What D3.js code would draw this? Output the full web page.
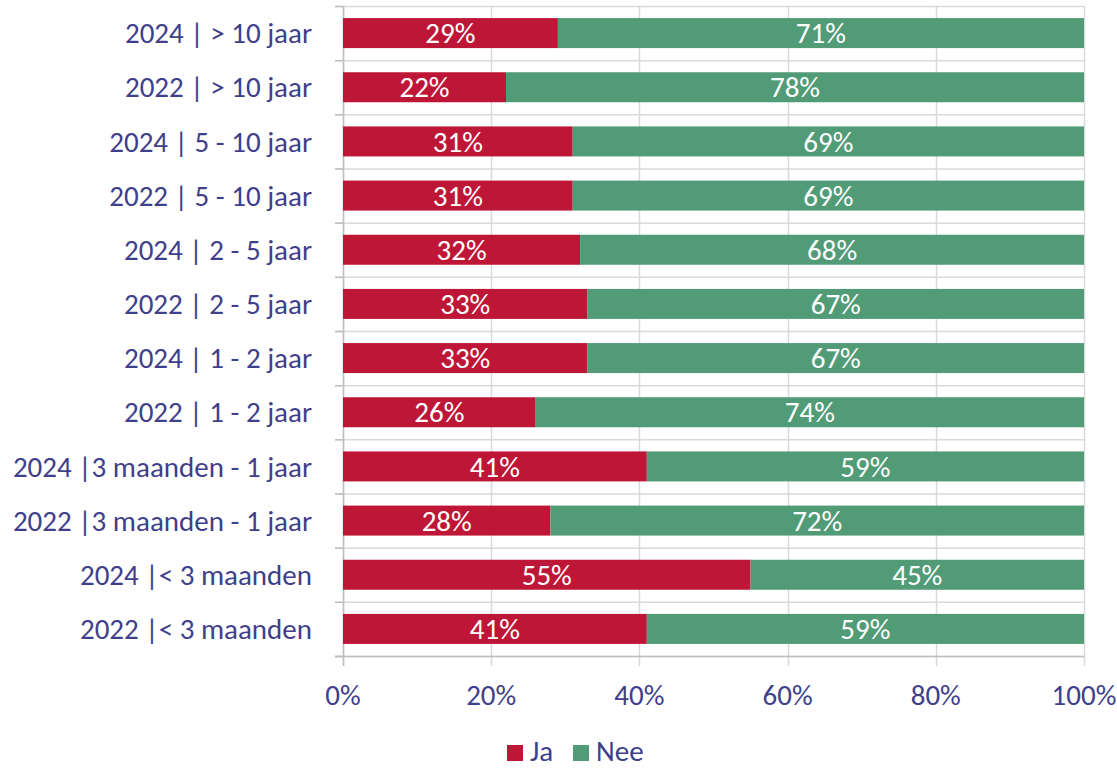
<!DOCTYPE html>
<html>
<head>
<meta charset="utf-8">
<script src="https://cdn.jsdelivr.net/npm/d3@7"></script>
<style>
  body { margin: 0; background: #fff; }
  text { font-family: Carlito, "Open Sans", "Liberation Sans", sans-serif; }
</style>
</head>
<body>
<div id="chart"></div>
<script>
// categories, top to bottom
const categories = [
  "2024 | > 10 jaar",
  "2022 | > 10 jaar",
  "2024 | 5 - 10 jaar",
  "2022 | 5 - 10 jaar",
  "2024 | 2 - 5 jaar",
  "2022 | 2 - 5 jaar",
  "2024 | 1 - 2 jaar",
  "2022 | 1 - 2 jaar",
  "2024 |3 maanden - 1 jaar",
  "2022 |3 maanden - 1 jaar",
  "2024 |< 3 maanden",
  "2022 |< 3 maanden"
];
const jaValues = [29, 22, 31, 31, 32, 33, 33, 26, 41, 28, 55, 41];
const neeValues = [71, 78, 69, 69, 68, 67, 67, 74, 59, 72, 45, 59];
const seriesNames = ["Ja", "Nee"];
const seriesColors = ["#BE1637", "#529B77"];
const xTicks = [0, 20, 40, 60, 80, 100];

const width = 1117, height = 768;
const plotLeft = 343, plotRight = 1084, plotTop = 6, plotBottom = 656;
const textColor = "#3F3F8C";
const fontSize = 29;

const svg = d3.select("#chart").append("svg")
  .attr("width", width).attr("height", height);

const x = d3.scaleLinear().domain([0, 100]).range([plotLeft, plotRight]);
const y = d3.scaleBand().domain(categories).range([plotTop, plotBottom]);

// horizontal gridlines at band edges
const edges = categories.map(c => y(c)).concat([plotBottom]);
svg.append("g").selectAll("line").data(edges).enter().append("line")
  .attr("x1", plotLeft - 8).attr("x2", plotRight)
  .attr("y1", d => d + 0.5).attr("y2", d => d + 0.5)
  .attr("stroke", "#D9D9D9").attr("stroke-width", 1.5);

// vertical gridlines
svg.append("g").selectAll("line").data(xTicks).enter().append("line")
  .attr("x1", d => Math.round(x(d)) + 0.5).attr("x2", d => Math.round(x(d)) + 0.5)
  .attr("y1", plotTop).attr("y2", plotBottom + 10)
  .attr("stroke", "#D9D9D9").attr("stroke-width", 1.5);

// axis lines + ticks
svg.append("line").attr("x1", plotLeft + 0.5).attr("x2", plotLeft + 0.5)
  .attr("y1", plotTop).attr("y2", plotBottom + 10).attr("stroke", "#BFBFBF").attr("stroke-width", 1.5);
svg.append("line").attr("x1", plotLeft - 8).attr("x2", plotRight)
  .attr("y1", plotBottom + 0.5).attr("y2", plotBottom + 0.5).attr("stroke", "#BFBFBF").attr("stroke-width", 1.5);
svg.append("g").selectAll("line").data(edges).enter().append("line")
  .attr("x1", plotLeft - 8).attr("x2", plotLeft)
  .attr("y1", d => d + 0.5).attr("y2", d => d + 0.5)
  .attr("stroke", "#BFBFBF").attr("stroke-width", 1.5);

// stacked bars
const stackData = categories.map((c, i) => ({ cat: c, Ja: jaValues[i], Nee: neeValues[i] }));
const series = d3.stack().keys(seriesNames)(stackData);
const barH = 30;

const groups = svg.append("g").selectAll("g").data(series).enter().append("g")
  .attr("fill", (d, i) => seriesColors[i]);

groups.selectAll("rect").data(d => d).enter().append("rect")
  .attr("x", d => x(d[0]))
  .attr("width", d => x(d[1]) - x(d[0]))
  .attr("y", d => y(d.data.cat) + (y.bandwidth() - barH) / 2)
  .attr("height", barH);

groups.selectAll("text").data(d => d).enter().append("text")
  .attr("x", d => (x(d[0]) + x(d[1])) / 2)
  .attr("y", d => y(d.data.cat) + y.bandwidth() / 2)
  .attr("dy", "0.35em")
  .attr("text-anchor", "middle")
  .attr("fill", "#fff")
  .attr("font-size", fontSize)
  .text(d => (d[1] - d[0]) + "%");

// category labels
svg.append("g").selectAll("text").data(categories).enter().append("text")
  .attr("x", 312)
  .attr("y", d => y(d) + y.bandwidth() / 2)
  .attr("dy", "0.35em")
  .attr("text-anchor", "end")
  .attr("fill", textColor)
  .attr("font-size", fontSize)
  .text(d => d);

// x tick labels
svg.append("g").selectAll("text").data(xTicks).enter().append("text")
  .attr("x", d => x(d))
  .attr("y", 695)
  .attr("dy", "0.35em")
  .attr("text-anchor", "middle")
  .attr("fill", textColor)
  .attr("font-size", fontSize)
  .text(d => d + "%");

// legend
const legendX = [507, 573];
const legend = svg.append("g").selectAll("g").data(seriesNames).enter().append("g")
  .attr("transform", (d, i) => `translate(${legendX[i]},751)`);
legend.append("rect").attr("x", 0).attr("y", -6).attr("width", 16).attr("height", 16)
  .attr("fill", (d, i) => seriesColors[i]);
legend.append("text").attr("x", 23).attr("y", 0).attr("dy", "0.35em")
  .attr("fill", textColor).attr("font-size", fontSize).text(d => d);
</script>
</body>
</html>
